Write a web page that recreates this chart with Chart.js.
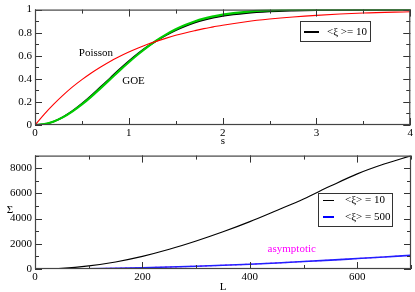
<!DOCTYPE html>
<html><head><meta charset="utf-8">
<script src="https://cdn.jsdelivr.net/npm/chart.js@4.4.1/dist/chart.umd.min.js"></script>
<style>
html,body{margin:0;padding:0;background:#fff;}
#w1{position:absolute;left:0;top:0;width:415px;height:146px;}
#w2{position:absolute;left:0;top:146px;width:415px;height:146px;}
</style></head><body>
<div id="w1"><canvas id="c1"></canvas></div>
<div id="w2"><canvas id="c2"></canvas></div>
<script>
// ---- top panel data ----
const sTop    = [0,0.1,0.2,0.3,0.4,0.5,0.6,0.7,0.8,0.9,1.0,1.1,1.2,1.3,1.4,1.5,1.6,1.7,1.8,1.9,2.0,2.25,2.5,2.75,3.0,3.5,4.0];
const poisson = [0,0.095,0.181,0.259,0.330,0.393,0.451,0.503,0.551,0.593,0.632,0.667,0.699,0.727,0.753,0.777,0.798,0.817,0.835,0.850,0.865,0.895,0.918,0.936,0.950,0.970,0.982];
const goe     = [0,0.008,0.031,0.068,0.118,0.178,0.246,0.320,0.395,0.471,0.544,0.613,0.677,0.735,0.785,0.829,0.866,0.897,0.922,0.941,0.957,0.981,0.993,0.997,0.999,1.0,1.0];
const xi10Top = [0,0.006,0.030,0.070,0.122,0.185,0.255,0.330,0.405,0.481,0.553,0.620,0.680,0.733,0.780,0.822,0.857,0.886,0.910,0.929,0.945,0.970,0.984,0.991,0.995,0.998,0.999];
const topXTicks = [0,1,2,3,4];
const topYTicks = [0,0.2,0.4,0.6,0.8,1];
// ---- bottom panel data ----
const L          = [0,50,100,150,200,250,300,350,400,450,500,550,600,650,700];
const sigma10    = [0,60,250,560,1000,1560,2220,2950,3760,4650,5560,6580,7550,8330,8980];
const sigma500   = [0,8,25,55,100,155,220,295,380,480,590,705,830,955,1090];
const asymptotic = [0,8,25,55,100,155,220,295,380,480,590,705,830,955,1090];
const botXTicks = [0,200,400,600];
const botYTicks = [0,2000,4000,6000,8000];

const FONT = 'Liberation Serif';
const pts = (xs, ys) => xs.map((x,i)=>({x:x,y:ys[i]}));

function frameTicks(xMinor, yMinor){
  return {
    id:'frameTicks',
    afterDatasetsDraw(chart){
      const {ctx, chartArea:a, scales:{x,y}} = chart;
      ctx.save();
      ctx.strokeStyle = '#333'; ctx.lineWidth = 1;
      const line=(x1,y1,x2,y2)=>{ctx.beginPath();ctx.moveTo(x1,y1);ctx.lineTo(x2,y2);ctx.stroke();};
      const drawX=(v,len)=>{const px=Math.round(x.getPixelForValue(v))+0.5; line(px,a.bottom,px,a.bottom-len); line(px,a.top,px,a.top+len);};
      const drawY=(v,len)=>{const py=Math.round(y.getPixelForValue(v))+0.5; line(a.left,py,a.left+len,py); line(a.right,py,a.right-len,py);};
      for(let v=x.min; v<=x.max+1e-9; v+=xMinor){ drawX(v,4); }
      for(let v=y.min; v<=y.max+1e-9; v+=yMinor){ drawY(v,4); }
      x.ticks.forEach(t=>drawX(t.value,7));
      y.ticks.forEach(t=>drawY(t.value,7));
      ctx.strokeStyle='#444'; ctx.lineWidth=1.2;
      ctx.strokeRect(a.left+0.5,a.top+0.5,a.right-a.left-1,a.bottom-a.top-1);
      ctx.restore();
    }
  };
}

function scaleCfg(min,max,ticks,size,isX,padTick){
  return {
    type:'linear', min:min, max:max,
    afterBuildTicks(s){ s.ticks = ticks.map(v=>({value:v})); },
    afterFit(s){ if(isX) s.height=size; else s.width=size; },
    grid:{display:false, drawTicks:false},
    border:{display:false},
    ticks:{color:'#000', font:{family:FONT,size:11}, padding:padTick, maxRotation:0, autoSkip:false,
      callback:(v)=>String(Math.round(v*10)/10)}
  };
}

// ---- top chart ----
const topText = {
  id:'topText',
  afterDraw(chart){
    const {ctx, scales:{x,y}} = chart;
    ctx.save();
    ctx.font = '11px "'+FONT+'"'; ctx.fillStyle='#000'; ctx.textBaseline='middle'; ctx.textAlign='center';
    ctx.fillText('Poisson', x.getPixelForValue(0.65), y.getPixelForValue(0.627));
    ctx.fillText('GOE', x.getPixelForValue(1.05), y.getPixelForValue(0.377));
    ctx.fillText('s', 223, 141);
    // legend
    ctx.strokeStyle='#333'; ctx.lineWidth=1;
    ctx.strokeRect(300.5,21.5,70,20);
    ctx.strokeStyle='#000'; ctx.lineWidth=2;
    ctx.beginPath(); ctx.moveTo(304,32); ctx.lineTo(319,32); ctx.stroke();
    ctx.textAlign='left';
    ctx.fillText('<ξ >= 10', 327, 32);
    ctx.restore();
  }
};
new Chart(document.getElementById('c1'),{
  type:'line',
  data:{datasets:[
    {data:pts(sTop,poisson), borderColor:'#ff0000', borderWidth:1.1},
    {data:pts(sTop,goe), borderColor:'#00cc00', borderWidth:2.2},
    {data:pts(sTop,xi10Top), borderColor:'#000000', borderWidth:1.7}
  ]},
  options:{
    responsive:true, maintainAspectRatio:false, animation:false,
    layout:{padding:{top:4,right:4,left:0,bottom:0}},
    elements:{point:{radius:0}, line:{cubicInterpolationMode:'monotone'}},
    plugins:{legend:{display:false}, tooltip:{enabled:false}},
    scales:{
      x:scaleCfg(0,4,topXTicks,21,true,2),
      y:scaleCfg(0,1,topYTicks,35,false,3)
    }
  },
  plugins:[frameTicks(0.5,0.1), topText]
});

// ---- bottom chart ----
const botText = {
  id:'botText',
  afterDraw(chart){
    const {ctx, scales:{x,y}} = chart;
    ctx.save();
    ctx.font = '11px "'+FONT+'"'; ctx.textBaseline='middle'; ctx.textAlign='center';
    ctx.fillStyle='#ff00ff';
    ctx.fillText('asymptotic', x.getPixelForValue(478), y.getPixelForValue(1560));
    ctx.fillStyle='#000';
    ctx.fillText('L', 223, 141);
    ctx.fillText('Σ', 10, 64);
    // legend
    ctx.strokeStyle='#333'; ctx.lineWidth=1;
    ctx.strokeRect(318.5,47.5,74,33);
    ctx.strokeStyle='#000'; ctx.lineWidth=1;
    ctx.beginPath(); ctx.moveTo(323,54.5); ctx.lineTo(334,54.5); ctx.stroke();
    ctx.strokeStyle='#0000ff'; ctx.lineWidth=2;
    ctx.beginPath(); ctx.moveTo(323,71); ctx.lineTo(334,71); ctx.stroke();
    ctx.textAlign='left';
    ctx.fillText('<ξ> = 10', 345, 54.5);
    ctx.fillText('<ξ> = 500', 345, 71);
    ctx.restore();
  }
};
new Chart(document.getElementById('c2'),{
  type:'line',
  data:{datasets:[
    {data:pts(L,sigma10), borderColor:'#000000', borderWidth:1.1},
    {data:pts(L,sigma500), borderColor:'#2020ff', borderWidth:1.6},
    {data:pts(L,asymptotic), borderColor:'#ff00ff', borderWidth:1.2, borderDash:[2,3]}
  ]},
  options:{
    responsive:true, maintainAspectRatio:false, animation:false,
    layout:{padding:{top:2,right:4,left:0,bottom:0}},
    elements:{point:{radius:0}, line:{cubicInterpolationMode:'monotone'}},
    plugins:{legend:{display:false}, tooltip:{enabled:false}},
    scales:{
      x:scaleCfg(0,700,botXTicks,23,true,2),
      y:scaleCfg(0,9000,botYTicks,35,false,3)
    }
  },
  plugins:[frameTicks(100,1000), botText]
});
</script>
</body></html>
